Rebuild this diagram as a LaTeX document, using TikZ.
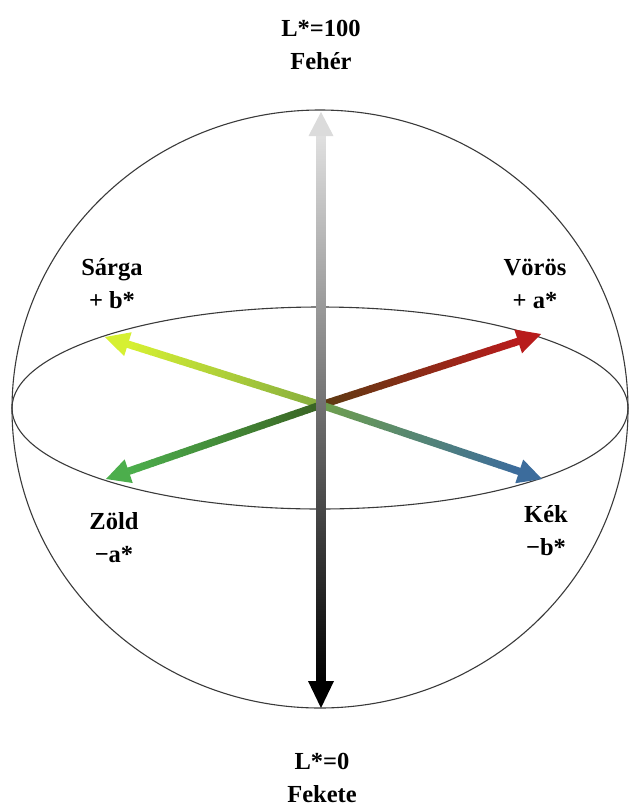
\documentclass[tikz,border=0pt]{standalone}
\usepackage{fontspec}
\setmainfont{Liberation Serif}
\usetikzlibrary{calc}
\definecolor{ylwTip}{HTML}{D6F032}
\definecolor{ylwIn}{HTML}{86AE3E}
\definecolor{redTip}{HTML}{B81C1C}
\definecolor{redIn}{HTML}{5E3A12}
\definecolor{grnTip}{HTML}{4CAE4C}
\definecolor{grnIn}{HTML}{3A6424}
\definecolor{bluTip}{HTML}{3C6C9C}
\definecolor{bluIn}{HTML}{6E9E4E}
\definecolor{outline}{HTML}{3A3A3A}
\tikzset{
  lbl/.style={font=\fontsize{24.5}{33}\selectfont\bfseries, align=center, inner sep=0pt},
  rim/.style={draw=outline, line width=1.1pt},
}
% #1 start, #2 tip, #3 inner colour, #4 tip colour
\newcommand{\gradarrow}[4]{%
  \coordinate (base) at ($(#2)!24pt!(#1)$);
  \foreach \i in {0,...,39} {
    \pgfmathsetmacro\fa{\i/40}
    \pgfmathsetmacro\fb{(\i+1.1)/40}
    \pgfmathtruncatemacro\pc{100*\i/39}
    \draw[line width=7.5pt, #4!\pc!#3] ($(#1)!\fa!(base)$) -- ($(#1)!\fb!(base)$);
  }
  \fill[#4] (#2) -- ($(base)!12.5pt!90:(#2)$) -- ($(base)!12.5pt!-90:(#2)$) -- cycle;
}
\begin{document}
\begin{tikzpicture}[x=1pt,y=-1pt]
\useasboundingbox (0,0) rectangle (629,807);
\coordinate (O) at (321,405);
\coordinate (Y) at (105,337);
\coordinate (R) at (541,334);
\coordinate (G) at (106,479);
\coordinate (B) at (542,479);
\coordinate (T) at (321,112);
\coordinate (D) at (321,708);
% sphere and equator
\draw[rim] (320,409) ellipse [x radius=308pt, y radius=299pt];
\draw[rim] (320,408) ellipse [x radius=308pt, y radius=101pt];
% colour axes
\gradarrow{O}{Y}{ylwIn}{ylwTip}
\gradarrow{O}{R}{redIn}{redTip}
\gradarrow{O}{G}{grnIn}{grnTip}
\gradarrow{O}{B}{bluIn}{bluTip}
% lightness axis
\shade[top color=black!12, middle color=black!65, bottom color=black]
  (316.5,134) rectangle (325.5,683);
\fill[black!14] (T) -- (308.5,136) -- (333.5,136) -- cycle;
\fill[black] (D) -- (308,681) -- (334,681) -- cycle;
% labels
\node[lbl] (top) at (321,45) {L*=100\\Fehér};
\node[lbl] (bot) at (322,778) {L*=0\\Fekete};
\node[lbl] (ylw) at (112,284) {Sárga\\+ b*};
\node[lbl] (red) at (535,284) {Vörös\\+ a*};
\node[lbl] (grn) at (114,538) {Zöld\\−a*};
\node[lbl] (blu) at (546,531) {Kék\\−b*};
\end{tikzpicture}
\end{document}
